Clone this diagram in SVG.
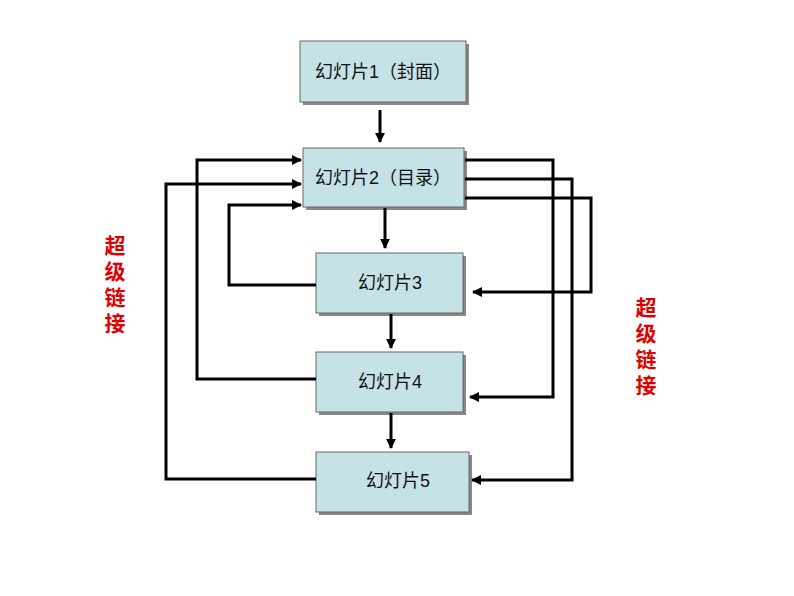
<svg xmlns="http://www.w3.org/2000/svg" width="794" height="596" viewBox="0 0 794 596">
<style>
.b{fill:#c5e3e6;stroke:#666;stroke-width:1}
.s{fill:#888}
.t{font-family:"Liberation Sans","Noto Sans CJK SC",sans-serif;font-size:18px;fill:#111;text-anchor:middle}
.r{font-family:"Noto Sans CJK SC",sans-serif;font-size:21px;font-weight:bold;fill:#e00000;writing-mode:vertical-rl;letter-spacing:5px}
.c{fill:none;stroke:#000;stroke-width:3;marker-end:url(#a)}
</style>
<defs><marker id="a" viewBox="0 0 10 10" refX="9" refY="5" markerWidth="3.3" markerHeight="3.3" orient="auto"><path d="M0,0L10,5L0,10z" fill="#000"/></marker></defs>
<rect width="794" height="596" fill="#fff"/>
<g id="n1"><rect class="s" x="303" y="44" width="166" height="61"/><rect class="b" x="300" y="41" width="166" height="61"/><text class="t" x="383" y="78">幻灯片1（封面）</text></g>
<g id="n2"><rect class="s" x="306" y="151" width="161" height="59"/><rect class="b" x="303" y="148" width="161" height="59"/><text class="t" x="383" y="184">幻灯片2（目录）</text></g>
<g id="n3"><rect class="s" x="319" y="256" width="147" height="60"/><rect class="b" x="316" y="253" width="147" height="60"/><text class="t" x="390" y="289">幻灯片3</text></g>
<g id="n4"><rect class="s" x="319" y="355" width="147" height="60"/><rect class="b" x="316" y="352" width="147" height="60"/><text class="t" x="390" y="388">幻灯片4</text></g>
<g id="n5"><rect class="s" x="319" y="455" width="153" height="60"/><rect class="b" x="316" y="452" width="153" height="60"/><text class="t" x="398" y="487">幻灯片5</text></g>
<g id="connectors">
<path class="c" d="M380,110V142"/>
<path class="c" d="M385,208V248"/>
<path class="c" d="M391,314V348"/>
<path class="c" d="M391,413V448"/>
<path class="c" d="M465,160H553V397H470"/>
<path class="c" d="M465,179H572V480H472"/>
<path class="c" d="M465,198H591V292H473"/>
<path class="c" d="M316,285H229V205H301"/>
<path class="c" d="M316,379H197V160H301"/>
<path class="c" d="M316,479H166V184H301"/>
</g>
<g id="labels">
<text class="r" x="115" y="235">超级链接</text>
<text class="r" x="646" y="297">超级链接</text>
</g>
</svg>
